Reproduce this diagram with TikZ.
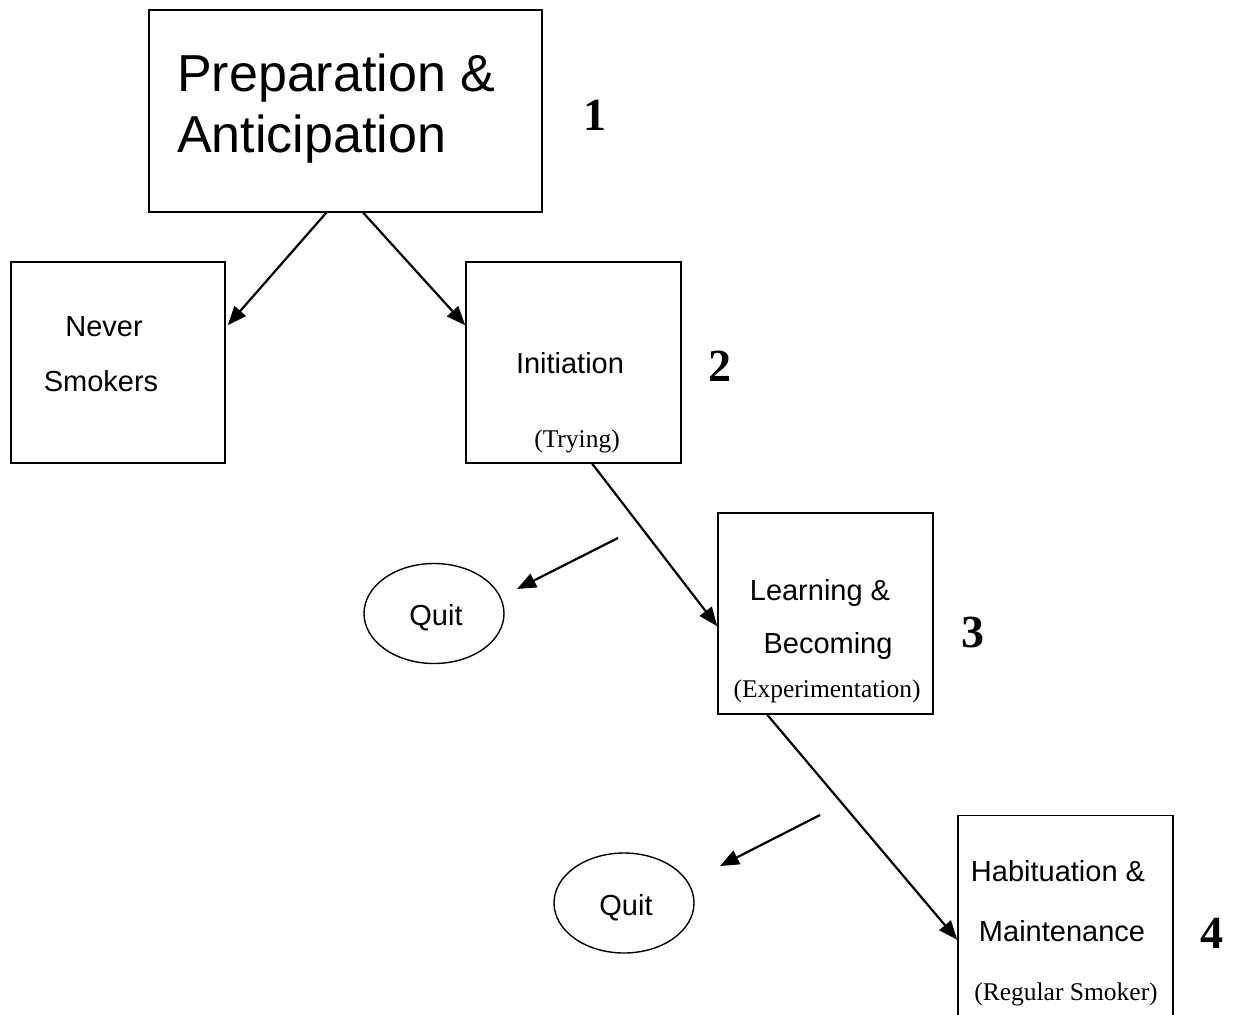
\documentclass[tikz,border=0pt]{standalone}
\usepackage{fontspec}
\setmainfont{Liberation Serif}
\newfontfamily\arialf{Liberation Sans}
\usetikzlibrary{arrows.meta,shapes.geometric}
\begin{document}
\begin{tikzpicture}[x=1pt,y=-1pt,
  stagebox/.style={draw,line width=1.5pt,rectangle,inner sep=0pt,minimum width=215pt,minimum height=201pt},
  quitshape/.style={draw,line width=1.4pt,ellipse,inner sep=0pt,minimum width=140pt,minimum height=100pt},
  bigsans/.style={inner sep=0pt,font=\arialf\fontsize{52}{58}\selectfont},
  sans/.style={inner sep=0pt,anchor=base,font=\arialf\fontsize{29}{32}\selectfont},
  serifsmall/.style={inner sep=0pt,anchor=base,font=\fontsize{25.5}{30}\selectfont},
  num/.style={inner sep=0pt,anchor=base,font=\bfseries\fontsize{46}{50}\selectfont},
  arr/.style={line width=2.2pt,-{Triangle[length=19pt,width=15pt]}}]
\useasboundingbox (0,0) rectangle (1233,1014);
% boxes
\node[stagebox,minimum width=393pt,minimum height=202pt] (prep) at (345.5,111) {};
\node[stagebox,minimum width=214pt] (never) at (118,362.5) {};
\node[stagebox] (init) at (573.5,362.5) {};
\node[stagebox] (learn) at (825.5,613.5) {};
\node[stagebox] (habit) at (1065.5,916) {};
\node[quitshape] (quitA) at (434,613.5) {};
\node[quitshape] (quitB) at (624,903) {};
% texts
\node[bigsans,anchor=base west] (tprepA) at (177,92) {Preparation \&};
\node[bigsans,anchor=base west] (tprepB) at (177,152) {Anticipation};
\node[sans] (tneverA) at (104,336) {Never};
\node[sans] (tneverB) at (101,391) {Smokers};
\node[sans] (tinit) at (570,373) {Initiation};
\node[serifsmall] (ttry) at (577,447) {(Trying)};
\node[sans] (tlearnA) at (820,600) {Learning \&};
\node[sans] (tlearnB) at (828,653) {Becoming};
\node[serifsmall] (texp) at (827,697) {(Experimentation)};
\node[sans] (thabA) at (1058,881) {Habituation \&};
\node[sans] (thabB) at (1062,941) {Maintenance};
\node[serifsmall] (treg) at (1066,1000) {(Regular Smoker)};
\node[sans] (tquitA) at (436,625) {Quit};
\node[sans] (tquitB) at (626,915) {Quit};
% numbers
\node[num] (nA) at (595,130) {1};
\node[num] (nB) at (720,381) {2};
\node[num] (nC) at (973,647) {3};
\node[num] (nD) at (1212,948) {4};
% connectors
\draw[arr] ([xshift=178pt]prep.south west) -- ([yshift=-64pt,xshift=2pt]never.north east);
\draw[arr] ([xshift=215pt]prep.south west) -- ([yshift=-64pt]init.north west);
\draw[arr] ([xshift=127pt]init.south west) -- ([yshift=-114pt]learn.north west);
\draw[arr] ([xshift=50pt]learn.south west) -- ([yshift=-125pt]habit.north west);
\coordinate (qsA) at (618,538);
\coordinate (qeA) at (517,589);
\coordinate (qsB) at (820,815);
\coordinate (qeB) at (720,866);
\draw[arr] (qsA) -- (qeA);
\draw[arr] (qsB) -- (qeB);
\end{tikzpicture}
\end{document}
